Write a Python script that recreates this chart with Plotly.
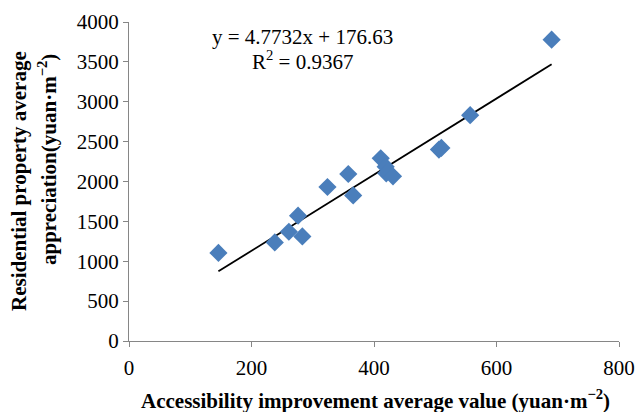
import plotly.graph_objects as go

x_vals = [146, 238, 261, 276, 283, 324, 358, 366, 411, 419, 420, 431, 506, 510, 557, 690]
y_vals = [1105, 1236, 1370, 1571, 1311, 1931, 2094, 1826, 2290, 2186, 2103, 2065, 2400, 2421, 2832, 3778]
slope = 4.7732
intercept = 176.63
x_ticks = [0, 200, 400, 600, 800]
y_ticks = [0, 500, 1000, 1500, 2000, 2500, 3000, 3500, 4000]

trend_x = [min(x_vals), max(x_vals)]
trend_y = [slope * v + intercept for v in trend_x]

font = "Liberation Serif, Times New Roman, serif"
W, H = 635, 412
L, R, T, B = 129, 16, 22, 71
pw, ph = W - L - R, H - T - B

def px_x(p):
    return (p - L) / pw

def px_y(p):
    return (H - B - p) / ph

fig = go.Figure()
fig.add_trace(go.Scatter(x=trend_x, y=trend_y, mode="lines",
                         line=dict(color="black", width=1.8), showlegend=False))
fig.add_trace(go.Scatter(x=x_vals, y=y_vals, mode="markers",
                         marker=dict(symbol="diamond", size=14, color="#4A7EBB"),
                         showlegend=False))

txt = dict(xref="paper", yref="paper", showarrow=False, xanchor="center", yanchor="middle")
fig.add_annotation(text="y = 4.7732x + 176.63", x=px_x(302), y=px_y(37),
                   font=dict(family=font, size=21, color="black"), **txt)
fig.add_annotation(text="R<sup>2</sup> = 0.9367", x=px_x(302), y=px_y(61),
                   font=dict(family=font, size=21, color="black"), **txt)
fig.add_annotation(text="<b>Accessibility improvement average value (yuan·m<sup>−2</sup>)</b>",
                   x=px_x(375), y=px_y(399),
                   font=dict(family=font, size=21, color="black"), **txt)
fig.add_annotation(text="<b>Residential property average</b>", x=px_x(19), y=px_y(181),
                   textangle=-90, font=dict(family=font, size=21, color="black"), **txt)
fig.add_annotation(text="<b>appreciation(yuan·m<sup>−2</sup>)</b>", x=px_x(47), y=px_y(160),
                   textangle=-90, font=dict(family=font, size=21, color="black"), **txt)

axis_common = dict(showgrid=False, zeroline=False, showline=True, linecolor="#868686", linewidth=1,
                   ticks="outside", ticklen=5, tickcolor="#868686", automargin=False,
                   tickfont=dict(family=font, size=21, color="black"))
fig.update_xaxes(range=[0, 800], tickvals=x_ticks, ticklabelstandoff=3, **axis_common)
fig.update_yaxes(range=[0, 4000], tickvals=y_ticks, **axis_common)

fig.update_layout(width=W, height=H, margin=dict(l=L, r=R, t=T, b=B),
                  plot_bgcolor="white", paper_bgcolor="white")
fig.write_html("out.html", config={"displayModeBar": False},
               post_script="document.body.style.margin='0';")
